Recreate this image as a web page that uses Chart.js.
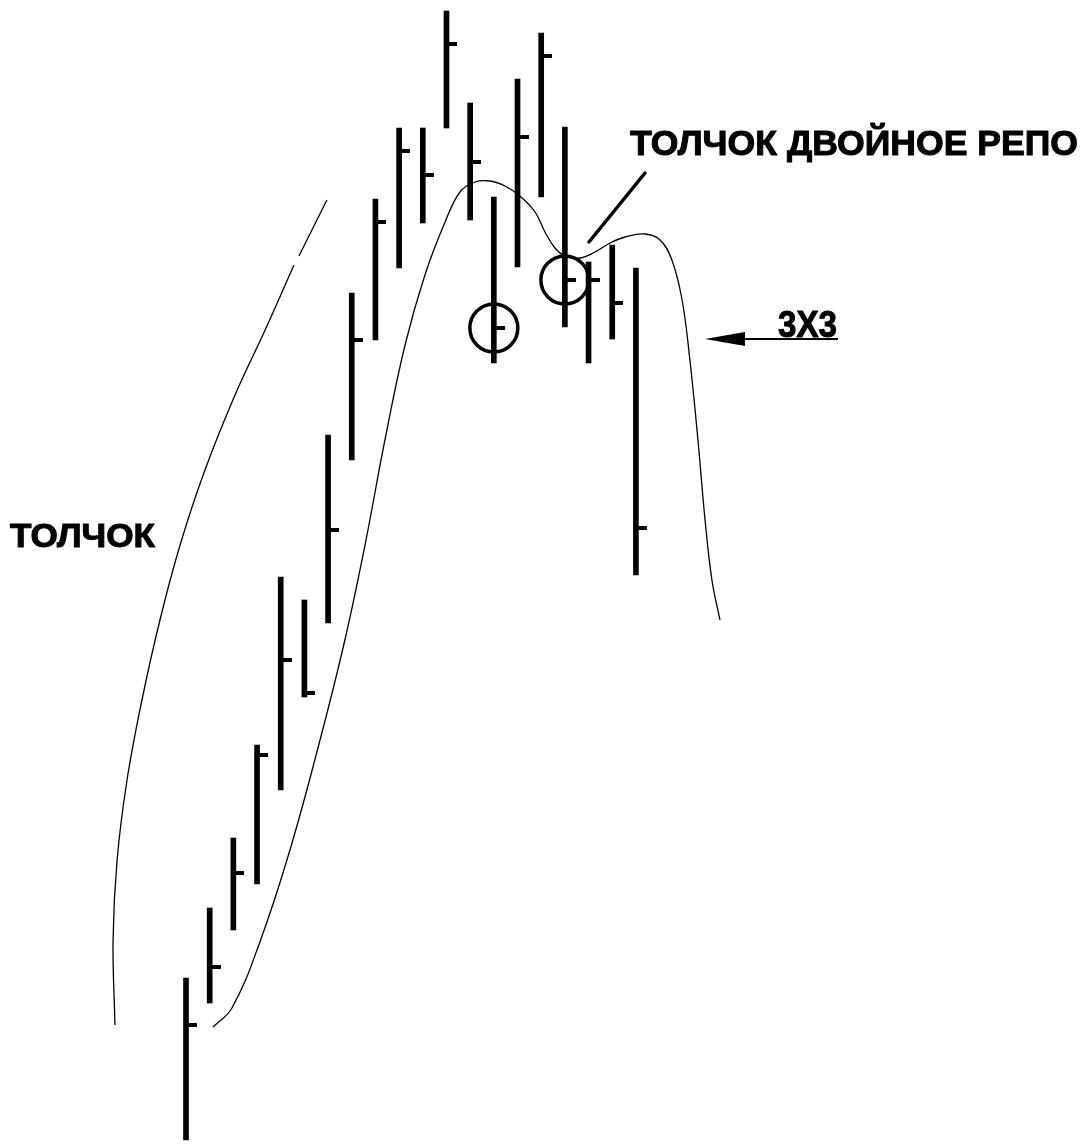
<!DOCTYPE html>
<html>
<head>
<meta charset="utf-8">
<script src="https://cdn.jsdelivr.net/npm/chart.js@4.4.0/dist/chart.umd.min.js"></script>
<style>
  html, body { margin: 0; padding: 0; background: #fff; }
  #wrap { width: 1085px; height: 1144px; }
</style>
</head>
<body>
<div id="wrap"><canvas id="c" width="1085" height="1144"></canvas></div>
<script>
// ---- Data ----
const barIndex = [1,2,3,4,5,6,7,8,9,10,11,12,13,14,15,16,17,18,19,20];
const highs  = [16.6,23.6,30.6,39.9,56.7,54.4,70.9,85.1,94.5,101.6,101.6,113.3,104.1,94.7,106.5,111.1,101.7,88.2,89.9,87.6];
const lows   = [0.4,14.1,21.4,26.0,35.4,44.7,52.1,68.4,80.4,87.6,92.1,101.6,92.4,78.1,87.7,94.7,81.7,78.1,80.5,56.9];
const closes = [11.9,17.7,27.1,38.9,48.4,45.1,61.4,80.4,92.2,99.3,96.9,110.0,98.2,81.6,100.7,108.8,86.4,86.4,84.1,61.6];

// bars marked with circles
const circledBars = [14, 17];

// "3X3" displaced average curve
const avgX = [2.14,2.94,4.12,5.39,6.66,7.71,8.56,9.40,10.25,11.09,11.94,12.57,13.20,13.84,14.47,15.10,15.74,16.16,16.58,17.01,17.64,18.27,18.91,19.54,20.38,21.02,21.52,21.95,22.28,22.62,22.92,23.21,23.55];
const avgY = [11.7,13.6,20.2,29.4,40.4,50.4,59.9,70.4,79.9,86.9,92.2,95.2,96.2,96.3,95.8,94.8,93.2,91.2,89.6,88.8,88.6,89.2,90.1,90.7,91.0,90.4,88.4,84.4,78.4,70.4,62.4,56.4,52.4];

// "ТОЛЧОК" thrust arc (null = gap in the drawn line)
const thrustX = [-2.0,-2.08,-1.91,-1.49,-0.86,-0.10,0.75,1.80,3.07,4.34,5.56,5.66,5.77,6.95];
const thrustY = [11.9,20.4,28.4,36.4,44.4,52.4,59.9,67.4,74.9,81.4,87.9,null,88.8,94.4];

// Text labels
const labelThrust = "ТОЛЧОК";
const labelDouble = "ТОЛЧОК ДВОЙНОЕ РЕПО";
const label3x3 = "3X3";

// Close ticks and rings are drawn from the data through the chart's scales
const markers = {
  id: 'markers',
  afterDatasetsDraw(chart) {
    const ctx = chart.ctx;
    const xs = chart.scales.x, ys = chart.scales.y;
    ctx.save();
    ctx.fillStyle = '#000';
    ctx.strokeStyle = '#000';
    barIndex.forEach((b, i) => {
      const px = Math.round(xs.getPixelForValue(b));
      const py = Math.round(ys.getPixelForValue(closes[i]));
      ctx.fillRect(px, py - 2, 11, 4);
    });
    ctx.lineWidth = 3.5;
    circledBars.forEach(b => {
      const px = xs.getPixelForValue(b);
      const py = ys.getPixelForValue(closes[b - 1]);
      ctx.beginPath();
      ctx.arc(px, py, 24, 0, Math.PI * 2);
      ctx.stroke();
    });
    ctx.restore();
  }
};

const annotations = {
  id: 'annotations',
  afterDatasetsDraw(chart) {
    const ctx = chart.ctx;
    ctx.save();
    ctx.fillStyle = '#000';
    ctx.strokeStyle = '#000';

    function fitText(txt, left, right, baseline, size) {
      ctx.font = 'bold ' + size + 'px "Liberation Sans", Arial, sans-serif';
      const w = ctx.measureText(txt).width;
      const sx = (right - left) / w;
      ctx.save();
      ctx.translate(left, baseline);
      ctx.scale(sx, 1);
      ctx.textBaseline = 'alphabetic';
      ctx.lineWidth = 1;
      ctx.fillText(txt, 0, 0);
      ctx.strokeText(txt, 0, 0);
      ctx.restore();
    }
    fitText(labelThrust, 10, 155, 547, 33);
    fitText(labelDouble, 630, 1078, 155, 35);
    fitText(label3x3, 778, 837, 337, 36);

    // pointer line to the second circle
    ctx.lineWidth = 3.5;
    ctx.lineCap = 'round';
    ctx.beginPath();
    ctx.moveTo(589, 242);
    ctx.lineTo(645, 173);
    ctx.stroke();

    // arrow to the 3X3 curve
    ctx.lineWidth = 2;
    ctx.lineCap = 'butt';
    ctx.beginPath();
    ctx.moveTo(735, 339);
    ctx.lineTo(838, 339);
    ctx.stroke();
    ctx.beginPath();
    ctx.moveTo(705, 339);
    ctx.lineTo(745, 332);
    ctx.lineTo(745, 346);
    ctx.closePath();
    ctx.fill();
    ctx.restore();
  }
};

const ctxEl = document.getElementById('c');
new Chart(ctxEl, {
  type: 'bar',
  data: {
    datasets: [
      {
        type: 'bar',
        data: barIndex.map((x, i) => ({ x: x, y: [lows[i], highs[i]] })),
        backgroundColor: '#000',
        borderWidth: 0,
        barThickness: 5,
        order: 3
      },
      {
        type: 'line',
        data: avgX.map((x, i) => ({ x: x, y: avgY[i] })),
        borderColor: '#000',
        borderWidth: 1.3,
        pointRadius: 0,
        tension: 0.4,
        fill: false,
        order: 4
      },
      {
        type: 'line',
        data: thrustX.map((x, i) => ({ x: x, y: thrustY[i] })),
        borderColor: '#000',
        borderWidth: 1.3,
        pointRadius: 0,
        tension: 0.4,
        spanGaps: false,
        fill: false,
        order: 4
      }
    ]
  },
  options: {
    responsive: false,
    animation: false,
    events: [],
    layout: { padding: 0, autoPadding: false },
    plugins: { legend: { display: false }, tooltip: { enabled: false } },
    scales: {
      x: { type: 'linear', min: -6.855, max: 38.965, display: false, offset: false },
      y: { type: 'linear', min: 0, max: 114.4, display: false }
    }
  },
  plugins: [markers, annotations]
});
</script>
</body>
</html>
